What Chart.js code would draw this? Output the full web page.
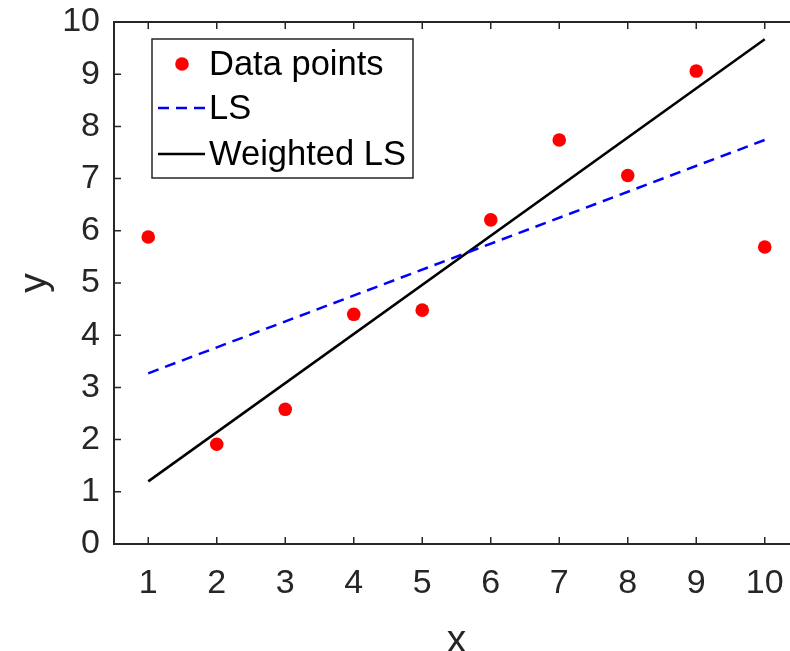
<!DOCTYPE html>
<html><head><meta charset="utf-8">
<script src="https://cdn.jsdelivr.net/npm/chart.js@4"></script>
<style>html,body{margin:0;padding:0;overflow:hidden;background:#fff}canvas{display:block}</style>
</head><body>
<canvas id="c" width="820" height="651" style="width:820px;height:651px"></canvas>
<script>
const xCategories = [1, 2, 3, 4, 5, 6, 7, 8, 9, 10];
const dataPoints = [5.88, 1.91, 2.58, 4.40, 4.48, 6.21, 7.74, 7.06, 9.06, 5.69];
const fitX = [1, 10];
const lsFit = [3.27, 7.74];
const weightedFit = [1.20, 9.67];
const xTicks = [1, 2, 3, 4, 5, 6, 7, 8, 9, 10];
const yTicks = [0, 1, 2, 3, 4, 5, 6, 7, 8, 9, 10];
const seriesLabels = ['Data points', 'LS', 'Weighted LS'];

const FONT = '"Liberation Sans", Arial, Helvetica, sans-serif';
const AXC = '#262626';

const boxPlugin = {
  id: 'matlabBox',
  afterDatasetsDraw(chart) {
    const {ctx, chartArea: a, scales: {x, y}} = chart;
    ctx.save();
    ctx.strokeStyle = AXC;
    ctx.lineWidth = 1.5;
    const tl = 7;
    ctx.beginPath();
    x.ticks.forEach(t => {
      const px = x.getPixelForValue(t.value);
      ctx.moveTo(px, a.bottom); ctx.lineTo(px, a.bottom - tl);
      ctx.moveTo(px, a.top); ctx.lineTo(px, a.top + tl);
    });
    y.ticks.forEach(t => {
      const py = y.getPixelForValue(t.value);
      ctx.moveTo(a.left, py); ctx.lineTo(a.left + tl, py);
      ctx.moveTo(a.right, py); ctx.lineTo(a.right - tl, py);
    });
    ctx.stroke();
    ctx.lineWidth = 2;
    ctx.strokeRect(a.left, a.top, a.right - a.left, a.bottom - a.top);
    ctx.restore();
  },
  afterDraw(chart) {
    const {ctx} = chart;
    const bx = 152, by = 39, bw = 261, bh = 139;
    ctx.save();
    ctx.fillStyle = '#fff';
    ctx.fillRect(bx, by, bw, bh);
    ctx.strokeStyle = AXC;
    ctx.lineWidth = 1.5;
    ctx.strokeRect(bx, by, bw, bh);
    const rows = [64, 108, 154];
    chart.data.datasets.forEach((ds, i) => {
      const cy = rows[i];
      if (ds.showLine === false) {
        ctx.fillStyle = ds.backgroundColor;
        ctx.beginPath();
        ctx.arc(182, cy, ds.pointRadius, 0, Math.PI * 2);
        ctx.fill();
      } else {
        ctx.strokeStyle = ds.borderColor;
        ctx.lineWidth = ds.borderWidth;
        ctx.setLineDash(ds.borderDash || []);
        ctx.beginPath();
        ctx.moveTo(158, cy); ctx.lineTo(205, cy);
        ctx.stroke();
        ctx.setLineDash([]);
      }
      ctx.fillStyle = '#000';
      ctx.font = '34.5px ' + FONT;
      ctx.textBaseline = 'middle';
      ctx.textAlign = 'left';
      ctx.fillText(ds.label, 209, cy + 1);
    });
    ctx.restore();
  }
};

new Chart(document.getElementById('c'), {
  type: 'scatter',
  data: {
    datasets: [
      {
        label: seriesLabels[0],
        data: xCategories.map((v, i) => ({x: v, y: dataPoints[i]})),
        showLine: false,
        pointRadius: 6.8,
        pointHoverRadius: 6.8,
        backgroundColor: '#ff0000',
        borderColor: '#ff0000',
        borderWidth: 0
      },
      {
        label: seriesLabels[1],
        data: fitX.map((v, i) => ({x: v, y: lsFit[i]})),
        showLine: true,
        pointRadius: 0,
        borderColor: '#0000ff',
        borderWidth: 2.5,
        borderDash: [11, 7],
        fill: false
      },
      {
        label: seriesLabels[2],
        data: fitX.map((v, i) => ({x: v, y: weightedFit[i]})),
        showLine: true,
        pointRadius: 0,
        borderColor: '#000000',
        borderWidth: 2.5,
        fill: false
      }
    ]
  },
  options: {
    responsive: false,
    animation: false,
    devicePixelRatio: 1,
    layout: {padding: {left: 0, top: 22, right: 21, bottom: 0}},
    plugins: {legend: {display: false}, tooltip: {enabled: false}},
    scales: {
      x: {
        type: 'linear',
        min: 0.5, max: 10.5,
        afterBuildTicks: s => { s.ticks = xTicks.map(v => ({value: v})); },
        afterFit: s => { s.height = 107; s.paddingLeft = 0; s.paddingRight = 0; },
        grid: {display: false, drawTicks: false},
        border: {display: false},
        ticks: {color: AXC, font: {family: FONT, size: 34}, padding: 19, maxRotation: 0, autoSkip: false},
        title: {display: true, text: 'x', color: AXC, font: {family: FONT, size: 39, lineHeight: 0.5}, padding: {top: 0, bottom: 0}}
      },
      y: {
        type: 'linear',
        min: 0, max: 10,
        afterBuildTicks: s => { s.ticks = yTicks.map(v => ({value: v})); },
        afterFit: s => { s.width = 114; s.paddingTop = 0; s.paddingBottom = 0; },
        grid: {display: false, drawTicks: false},
        border: {display: false},
        ticks: {color: AXC, font: {family: FONT, size: 34}, padding: 14, autoSkip: false},
        title: {display: true, text: 'y', color: AXC, font: {family: FONT, size: 39, lineHeight: 1}, padding: {top: 16, bottom: 0}}
      }
    }
  },
  plugins: [boxPlugin]
});
</script>
</body></html>
